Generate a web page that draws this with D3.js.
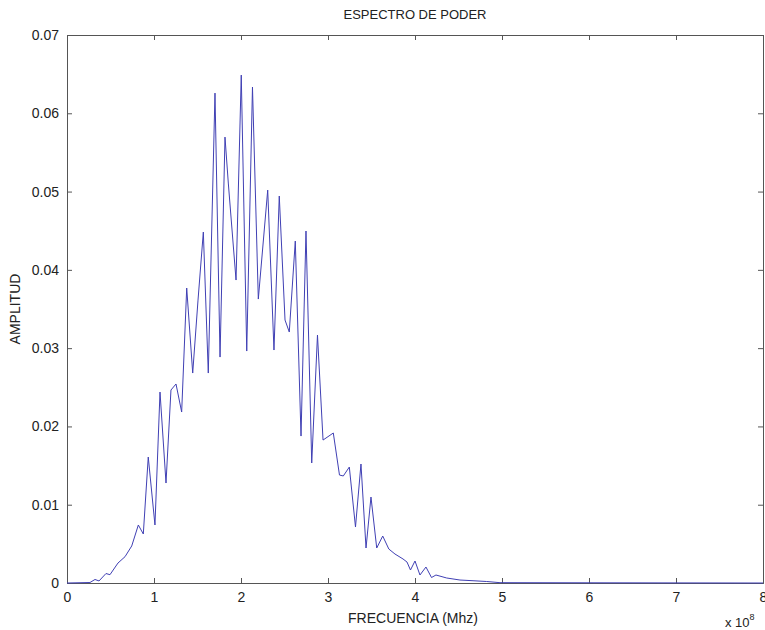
<!DOCTYPE html>
<html>
<head>
<meta charset="utf-8">
<script src="https://cdn.jsdelivr.net/npm/d3@7"></script>
<style>
  body { margin: 0; background: #fff; }
  text { font-family: "Liberation Sans", Arial, sans-serif; fill: #222; }
</style>
</head>
<body>
<div id="chart"></div>
<script>
// frequency in units of 1e8 Hz, amplitude
const freq = [0, 0.264, 0.322, 0.368, 0.448, 0.494, 0.586, 0.667, 0.744, 0.820, 0.877, 0.934,
  1.011, 1.069, 1.138, 1.195, 1.253, 1.318, 1.376, 1.445, 1.506, 1.567, 1.624, 1.701, 1.759,
  1.816, 1.854, 1.943, 2.003, 2.066, 2.132, 2.199, 2.307, 2.379, 2.440, 2.506, 2.555, 2.624,
  2.690, 2.747, 2.813, 2.879, 2.943, 3.061, 3.132, 3.176, 3.245, 3.316, 3.379, 3.437, 3.494,
  3.560, 3.629, 3.699, 3.770, 3.862, 3.908, 3.948, 4.000, 4.057, 4.126, 4.190, 4.241, 4.364,
  4.517, 4.667, 4.824, 4.977, 8.0];
const amp = [0, 0.00006, 0.00045, 0.00026, 0.00121, 0.00106, 0.00255, 0.00336, 0.00473, 0.00741, 0.00626, 0.01609,
  0.00741, 0.02439, 0.01277, 0.02465, 0.02542, 0.02184, 0.03768, 0.02682, 0.03614, 0.04483, 0.02682, 0.06258, 0.02886,
  0.05696, 0.05109, 0.03870, 0.06488, 0.02963, 0.06335, 0.03627, 0.05019, 0.02976, 0.04943, 0.03359, 0.03206, 0.04368,
  0.01877, 0.04496, 0.01533, 0.03167, 0.01826, 0.01916, 0.01379, 0.01367, 0.01481, 0.00715, 0.01520, 0.00447, 0.01098,
  0.00447, 0.00600, 0.00434, 0.00370, 0.00307, 0.00268, 0.00166, 0.00281, 0.00102, 0.00204, 0.00070, 0.00102, 0.00064,
  0.00038, 0.00029, 0.00019, 0.00004, 0];
const xTicks = [0, 1, 2, 3, 4, 5, 6, 7, 8];
const yTicks = [0, 0.01, 0.02, 0.03, 0.04, 0.05, 0.06, 0.07];

const W = 765, H = 630;
const margin = { top: 35, right: 2, bottom: 47, left: 67 },
      width = W - margin.left - margin.right,
      height = H - margin.top - margin.bottom;

const svg = d3.select("#chart").append("svg")
    .attr("width", W).attr("height", H)
  .append("g")
    .attr("transform", `translate(${margin.left},${margin.top})`);

const x = d3.scaleLinear().domain([0, 8]).range([0, width]);
const y = d3.scaleLinear().domain([0, 0.07]).range([height, 0]);

const axisColor = "#555";
const fmtY = d => d === 0 ? "0" : d3.format(".2f")(d);

// bottom / left axes with labels, ticks pointing inward
const xAxis = svg.append("g").attr("transform", `translate(0,${height})`)
    .call(d3.axisBottom(x).tickValues(xTicks).tickSize(-5).tickPadding(9).tickFormat(d3.format("d")));
const yAxis = svg.append("g")
    .call(d3.axisLeft(y).tickValues(yTicks).tickSize(-5).tickPadding(8).tickFormat(fmtY));
// top / right mirrored ticks
const xTop = svg.append("g")
    .call(d3.axisTop(x).tickValues(xTicks).tickSize(-5).tickFormat(""));
const yRight = svg.append("g").attr("transform", `translate(${width},0)`)
    .call(d3.axisRight(y).tickValues(yTicks).tickSize(-5).tickFormat(""));

[xAxis, yAxis, xTop, yRight].forEach(g => {
  g.select(".domain").attr("stroke", axisColor).attr("stroke-width", 1);
  g.selectAll(".tick line").attr("stroke", axisColor);
  g.selectAll("text").style("font-size", "14px").attr("fill", "#222")
    .style("font-family", "'Liberation Sans', Arial, sans-serif");
});

const data = freq.map((f, i) => ({ f, a: amp[i] }));
svg.append("path")
   .datum(data)
   .attr("fill", "none")
   .attr("stroke", "#4040b4")
   .attr("stroke-width", 1)
   .attr("stroke-linejoin", "round")
   .attr("d", d3.line().x(d => x(d.f)).y(d => y(d.a)));

// titles
svg.append("text")
   .attr("x", width / 2).attr("y", -16)
   .attr("text-anchor", "middle").style("font-size", "13px")
   .text("ESPECTRO DE PODER");

svg.append("text")
   .attr("x", width / 2 - 2).attr("y", height + 40)
   .attr("text-anchor", "middle").style("font-size", "14px")
   .text("FRECUENCIA (Mhz)");

svg.append("text")
   .attr("transform", `translate(${-47},${height / 2}) rotate(-90)`)
   .attr("text-anchor", "middle").style("font-size", "14px")
   .text("AMPLITUD");

// exponent label
const expo = svg.append("text")
   .attr("x", width - 38).attr("y", height + 44)
   .style("font-size", "13px");
expo.append("tspan").text("x 10");
expo.append("tspan").attr("dy", -7).style("font-size", "9px").text("8");
</script>
</body>
</html>
